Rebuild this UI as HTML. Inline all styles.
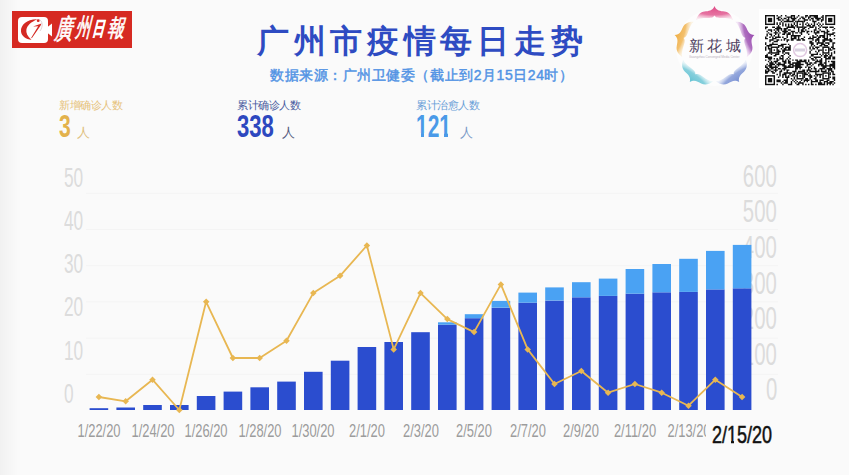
<!DOCTYPE html>
<html><head><meta charset="utf-8">
<style>
html,body{margin:0;padding:0;}
body{width:849px;height:475px;overflow:hidden;background:#fafafa;position:relative;font-family:"Liberation Sans",sans-serif;}
.abs{position:absolute;}
.num{position:absolute;font-family:"Liberation Sans",sans-serif;white-space:nowrap;transform-origin:0 0;line-height:1;}
.la{position:absolute;left:63.5px;font-size:27px;color:#dcdcdc;transform:scaleX(0.64);transform-origin:0 0;line-height:1;white-space:nowrap;}
.ra{position:absolute;right:72px;font-size:31px;color:#dcdcdc;transform:scaleX(0.655);transform-origin:100% 0;line-height:1;white-space:nowrap;}
.dl{position:absolute;top:421px;width:120px;text-align:center;font-size:19px;color:#9c9c9c;transform:scaleX(0.68);line-height:1;white-space:nowrap;}
</style></head><body>
<div class="abs" style="left:0;top:0;width:18px;height:475px;background:linear-gradient(to right,#f1f1f1,#fafafa);"></div>
<!-- logo -->
<div class="abs" style="left:12px;top:11px;width:120px;height:37px;background:#d62a22;"></div>
<div class="abs" style="left:18px;top:16.5px;width:30px;height:26px;background:#fff;border-radius:4px;"></div>
<svg class="abs" style="left:12px;top:11px" width="120" height="37">
<path d="M35.5 16 L40 12.5 L40 25.5 L35.5 22 Z" fill="#fff"/>
<path d="M25.5 8.3 C15 8 8.5 14 9 20.5 C9.5 25 14 28.5 19.5 28.8 C15.5 25.5 13.8 22 14.4 18.5 C15.2 14.5 19 11 25.5 8.3 Z" fill="#d42a24"/>
<path d="M21 15.5 L29.5 12.5 L28.5 14.8 L19.8 27.2 L19.2 26.8 L26.2 15.2 Z" fill="#d42a24"/>
<circle cx="26.2" cy="9.7" r="1.4" fill="#d42a24"/>
<path d="M27 8.5 C31 10 31 16 28 20" fill="none" stroke="#c8b0b8" stroke-width="0.6"/>
</svg>
<div class="abs" style="left:56px;top:20px;font-size:18px;color:#fff;white-space:nowrap;line-height:1;transform:skewX(-14deg) scaleY(1.5);transform-origin:50% 50%;font-family:'Liberation Serif',serif;-webkit-text-stroke:0.5px #fff;">廣</div>
<div class="abs" style="left:77px;top:21px;font-size:15px;color:#fff;white-space:nowrap;line-height:1;transform:skewX(-14deg) scaleY(1.65);transform-origin:50% 50%;font-family:'Liberation Serif',serif;-webkit-text-stroke:0.5px #fff;">州</div>
<div class="abs" style="left:94px;top:23px;font-size:12px;color:#fff;white-space:nowrap;line-height:1;transform:skewX(-14deg) scaleY(1.6);transform-origin:50% 50%;font-family:'Liberation Serif',serif;font-weight:bold;-webkit-text-stroke:0.3px #fff;">日</div>
<div class="abs" style="left:109px;top:20px;font-size:17px;color:#fff;white-space:nowrap;line-height:1;transform:skewX(-14deg) scaleY(1.4);transform-origin:50% 50%;font-family:'Liberation Serif',serif;-webkit-text-stroke:0.5px #fff;">報</div>
<!-- title -->
<div class="abs" style="left:257px;top:22px;font-size:32px;font-weight:bold;color:#2e4bc2;white-space:nowrap;line-height:1.2;letter-spacing:4.7px;">广州市疫情每日走势</div>
<div class="abs" style="left:270px;top:67px;font-size:14px;font-weight:normal;color:#5293e4;-webkit-text-stroke:0.45px #5293e4;white-space:nowrap;line-height:1.2;letter-spacing:0.55px;">数据来源：广州卫健委（截止到2月15日24时）</div>
<!-- logo 2 -->
<div class="abs" style="left:676px;top:9px;width:77px;height:77px;border-radius:50%;background:#fdfdfd;"></div>
<svg class="abs" style="left:670px;top:0px" width="90" height="95" viewBox="0 0 90 95">
<defs><radialGradient id="pg0" cx="0.5" cy="0" r="1" fx="0.5" fy="0.1"><stop offset="0" stop-color="#e0508a"/><stop offset="0.6" stop-color="#e0508a" stop-opacity="0.8"/><stop offset="1" stop-color="#f4b8d0" stop-opacity="0.3"/></radialGradient><radialGradient id="pg1" cx="0.5" cy="0" r="1" fx="0.5" fy="0.1"><stop offset="0" stop-color="#9a4cb0"/><stop offset="0.6" stop-color="#9a4cb0" stop-opacity="0.8"/><stop offset="1" stop-color="#dcb0e4" stop-opacity="0.3"/></radialGradient><radialGradient id="pg2" cx="0.5" cy="0" r="1" fx="0.5" fy="0.1"><stop offset="0" stop-color="#7a92d4"/><stop offset="0.6" stop-color="#7a92d4" stop-opacity="0.8"/><stop offset="1" stop-color="#c8d4f0" stop-opacity="0.3"/></radialGradient><radialGradient id="pg3" cx="0.5" cy="0" r="1" fx="0.5" fy="0.1"><stop offset="0" stop-color="#68c4d4"/><stop offset="0.6" stop-color="#68c4d4" stop-opacity="0.8"/><stop offset="1" stop-color="#b8e4ec" stop-opacity="0.3"/></radialGradient><radialGradient id="pg4" cx="0.5" cy="0" r="1" fx="0.5" fy="0.1"><stop offset="0" stop-color="#f0b048"/><stop offset="0.6" stop-color="#f0b048" stop-opacity="0.8"/><stop offset="1" stop-color="#f8dca8" stop-opacity="0.3"/></radialGradient></defs>
<path d="M -18.5 14 C -17 9 -14 6 -10 5.5 C -6 5 -2 5 0 0 C 2 5 6 5 10 5.5 C 14 6 17 9 18.5 14 C 16 12.5 12 12 8 12 C 4 12 1.5 12 0 9.5 C -1.5 12 -4 12 -8 12 C -12 12 -16 12.5 -18.5 14 Z" fill="url(#pg0)" transform="rotate(0 44.5 48) translate(44.5 6)"/>
<path d="M -18.5 14 C -17 9 -14 6 -10 5.5 C -6 5 -2 5 0 0 C 2 5 6 5 10 5.5 C 14 6 17 9 18.5 14 C 16 12.5 12 12 8 12 C 4 12 1.5 12 0 9.5 C -1.5 12 -4 12 -8 12 C -12 12 -16 12.5 -18.5 14 Z" fill="url(#pg1)" transform="rotate(72 44.5 48) translate(44.5 6)"/>
<path d="M -18.5 14 C -17 9 -14 6 -10 5.5 C -6 5 -2 5 0 0 C 2 5 6 5 10 5.5 C 14 6 17 9 18.5 14 C 16 12.5 12 12 8 12 C 4 12 1.5 12 0 9.5 C -1.5 12 -4 12 -8 12 C -12 12 -16 12.5 -18.5 14 Z" fill="url(#pg2)" transform="rotate(144 44.5 48) translate(44.5 6)"/>
<path d="M -18.5 14 C -17 9 -14 6 -10 5.5 C -6 5 -2 5 0 0 C 2 5 6 5 10 5.5 C 14 6 17 9 18.5 14 C 16 12.5 12 12 8 12 C 4 12 1.5 12 0 9.5 C -1.5 12 -4 12 -8 12 C -12 12 -16 12.5 -18.5 14 Z" fill="url(#pg3)" transform="rotate(216 44.5 48) translate(44.5 6)"/>
<path d="M -18.5 14 C -17 9 -14 6 -10 5.5 C -6 5 -2 5 0 0 C 2 5 6 5 10 5.5 C 14 6 17 9 18.5 14 C 16 12.5 12 12 8 12 C 4 12 1.5 12 0 9.5 C -1.5 12 -4 12 -8 12 C -12 12 -16 12.5 -18.5 14 Z" fill="url(#pg4)" transform="rotate(288 44.5 48) translate(44.5 6)"/>
</svg>
<div class="abs" style="left:689px;top:36.5px;font-size:15px;color:#4e4060;white-space:nowrap;line-height:1.2;font-family:'Liberation Serif',serif;letter-spacing:3.3px;font-weight:200;">新花城</div>
<div class="abs" style="left:689px;top:54.5px;font-size:8px;line-height:8px;color:#b8b0bc;white-space:nowrap;transform:scale(0.38,0.45);transform-origin:0 0;">Guangzhou Converged Media Center</div>
<!-- QR -->
<div class="abs" style="left:759px;top:9px;width:81px;height:79px;background:#fff;"></div>
<svg class="abs" style="left:764.7px;top:14.7px" width="71" height="71">
<path fill="#111" d="M11.46 0.00h1.43v1.43h-1.43zM15.76 0.00h1.43v1.43h-1.43zM20.06 0.00h1.43v1.43h-1.43zM25.79 0.00h1.43v1.43h-1.43zM27.22 0.00h1.43v1.43h-1.43zM28.65 0.00h1.43v1.43h-1.43zM32.95 0.00h1.43v1.43h-1.43zM40.11 0.00h1.43v1.43h-1.43zM41.55 0.00h1.43v1.43h-1.43zM44.41 0.00h1.43v1.43h-1.43zM45.84 0.00h1.43v1.43h-1.43zM47.28 0.00h1.43v1.43h-1.43zM48.71 0.00h1.43v1.43h-1.43zM50.14 0.00h1.43v1.43h-1.43zM51.58 0.00h1.43v1.43h-1.43zM57.31 0.00h1.43v1.43h-1.43zM12.89 1.43h1.43v1.43h-1.43zM14.33 1.43h1.43v1.43h-1.43zM21.49 1.43h1.43v1.43h-1.43zM22.92 1.43h1.43v1.43h-1.43zM24.36 1.43h1.43v1.43h-1.43zM25.79 1.43h1.43v1.43h-1.43zM28.65 1.43h1.43v1.43h-1.43zM31.52 1.43h1.43v1.43h-1.43zM35.82 1.43h1.43v1.43h-1.43zM37.25 1.43h1.43v1.43h-1.43zM40.11 1.43h1.43v1.43h-1.43zM42.98 1.43h1.43v1.43h-1.43zM44.41 1.43h1.43v1.43h-1.43zM48.71 1.43h1.43v1.43h-1.43zM50.14 1.43h1.43v1.43h-1.43zM51.58 1.43h1.43v1.43h-1.43zM55.87 1.43h1.43v1.43h-1.43zM57.31 1.43h1.43v1.43h-1.43zM11.46 2.87h1.43v1.43h-1.43zM12.89 2.87h1.43v1.43h-1.43zM15.76 2.87h1.43v1.43h-1.43zM18.62 2.87h1.43v1.43h-1.43zM20.06 2.87h1.43v1.43h-1.43zM22.92 2.87h1.43v1.43h-1.43zM25.79 2.87h1.43v1.43h-1.43zM27.22 2.87h1.43v1.43h-1.43zM28.65 2.87h1.43v1.43h-1.43zM30.09 2.87h1.43v1.43h-1.43zM34.38 2.87h1.43v1.43h-1.43zM37.25 2.87h1.43v1.43h-1.43zM38.68 2.87h1.43v1.43h-1.43zM42.98 2.87h1.43v1.43h-1.43zM45.84 2.87h1.43v1.43h-1.43zM47.28 2.87h1.43v1.43h-1.43zM50.14 2.87h1.43v1.43h-1.43zM51.58 2.87h1.43v1.43h-1.43zM53.01 2.87h1.43v1.43h-1.43zM54.44 2.87h1.43v1.43h-1.43zM57.31 2.87h1.43v1.43h-1.43zM12.89 4.30h1.43v1.43h-1.43zM14.33 4.30h1.43v1.43h-1.43zM17.19 4.30h1.43v1.43h-1.43zM21.49 4.30h1.43v1.43h-1.43zM22.92 4.30h1.43v1.43h-1.43zM27.22 4.30h1.43v1.43h-1.43zM28.65 4.30h1.43v1.43h-1.43zM32.95 4.30h1.43v1.43h-1.43zM38.68 4.30h1.43v1.43h-1.43zM40.11 4.30h1.43v1.43h-1.43zM41.55 4.30h1.43v1.43h-1.43zM44.41 4.30h1.43v1.43h-1.43zM47.28 4.30h1.43v1.43h-1.43zM51.58 4.30h1.43v1.43h-1.43zM53.01 4.30h1.43v1.43h-1.43zM55.87 4.30h1.43v1.43h-1.43zM57.31 4.30h1.43v1.43h-1.43zM15.76 5.73h1.43v1.43h-1.43zM18.62 5.73h1.43v1.43h-1.43zM20.06 5.73h1.43v1.43h-1.43zM21.49 5.73h1.43v1.43h-1.43zM22.92 5.73h1.43v1.43h-1.43zM24.36 5.73h1.43v1.43h-1.43zM25.79 5.73h1.43v1.43h-1.43zM27.22 5.73h1.43v1.43h-1.43zM30.09 5.73h1.43v1.43h-1.43zM38.68 5.73h1.43v1.43h-1.43zM47.28 5.73h1.43v1.43h-1.43zM48.71 5.73h1.43v1.43h-1.43zM50.14 5.73h1.43v1.43h-1.43zM55.87 5.73h1.43v1.43h-1.43zM11.46 7.16h1.43v1.43h-1.43zM14.33 7.16h1.43v1.43h-1.43zM17.19 7.16h1.43v1.43h-1.43zM28.65 7.16h1.43v1.43h-1.43zM41.55 7.16h1.43v1.43h-1.43zM48.71 7.16h1.43v1.43h-1.43zM53.01 7.16h1.43v1.43h-1.43zM11.46 8.60h1.43v1.43h-1.43zM14.33 8.60h1.43v1.43h-1.43zM17.19 8.60h1.43v1.43h-1.43zM20.06 8.60h1.43v1.43h-1.43zM22.92 8.60h1.43v1.43h-1.43zM25.79 8.60h1.43v1.43h-1.43zM28.65 8.60h1.43v1.43h-1.43zM40.11 8.60h1.43v1.43h-1.43zM42.98 8.60h1.43v1.43h-1.43zM45.84 8.60h1.43v1.43h-1.43zM48.71 8.60h1.43v1.43h-1.43zM51.58 8.60h1.43v1.43h-1.43zM54.44 8.60h1.43v1.43h-1.43zM57.31 8.60h1.43v1.43h-1.43zM12.89 10.03h1.43v1.43h-1.43zM17.19 10.03h1.43v1.43h-1.43zM20.06 10.03h1.43v1.43h-1.43zM22.92 10.03h1.43v1.43h-1.43zM25.79 10.03h1.43v1.43h-1.43zM27.22 10.03h1.43v1.43h-1.43zM30.09 10.03h1.43v1.43h-1.43zM41.55 10.03h1.43v1.43h-1.43zM42.98 10.03h1.43v1.43h-1.43zM44.41 10.03h1.43v1.43h-1.43zM47.28 10.03h1.43v1.43h-1.43zM48.71 10.03h1.43v1.43h-1.43zM53.01 10.03h1.43v1.43h-1.43zM55.87 10.03h1.43v1.43h-1.43zM0.00 11.46h1.43v1.43h-1.43zM1.43 11.46h1.43v1.43h-1.43zM7.16 11.46h1.43v1.43h-1.43zM8.60 11.46h1.43v1.43h-1.43zM11.46 11.46h1.43v1.43h-1.43zM12.89 11.46h1.43v1.43h-1.43zM14.33 11.46h1.43v1.43h-1.43zM21.49 11.46h1.43v1.43h-1.43zM22.92 11.46h1.43v1.43h-1.43zM24.36 11.46h1.43v1.43h-1.43zM25.79 11.46h1.43v1.43h-1.43zM27.22 11.46h1.43v1.43h-1.43zM28.65 11.46h1.43v1.43h-1.43zM38.68 11.46h1.43v1.43h-1.43zM40.11 11.46h1.43v1.43h-1.43zM44.41 11.46h1.43v1.43h-1.43zM45.84 11.46h1.43v1.43h-1.43zM47.28 11.46h1.43v1.43h-1.43zM50.14 11.46h1.43v1.43h-1.43zM54.44 11.46h1.43v1.43h-1.43zM57.31 11.46h1.43v1.43h-1.43zM58.74 11.46h1.43v1.43h-1.43zM60.17 11.46h1.43v1.43h-1.43zM61.60 11.46h1.43v1.43h-1.43zM64.47 11.46h1.43v1.43h-1.43zM65.90 11.46h1.43v1.43h-1.43zM67.33 11.46h1.43v1.43h-1.43zM0.00 12.89h1.43v1.43h-1.43zM10.03 12.89h1.43v1.43h-1.43zM11.46 12.89h1.43v1.43h-1.43zM12.89 12.89h1.43v1.43h-1.43zM14.33 12.89h1.43v1.43h-1.43zM15.76 12.89h1.43v1.43h-1.43zM18.62 12.89h1.43v1.43h-1.43zM20.06 12.89h1.43v1.43h-1.43zM21.49 12.89h1.43v1.43h-1.43zM28.65 12.89h1.43v1.43h-1.43zM32.95 12.89h1.43v1.43h-1.43zM37.25 12.89h1.43v1.43h-1.43zM38.68 12.89h1.43v1.43h-1.43zM42.98 12.89h1.43v1.43h-1.43zM50.14 12.89h1.43v1.43h-1.43zM53.01 12.89h1.43v1.43h-1.43zM60.17 12.89h1.43v1.43h-1.43zM68.77 12.89h1.43v1.43h-1.43zM2.87 14.33h1.43v1.43h-1.43zM4.30 14.33h1.43v1.43h-1.43zM5.73 14.33h1.43v1.43h-1.43zM8.60 14.33h1.43v1.43h-1.43zM11.46 14.33h1.43v1.43h-1.43zM12.89 14.33h1.43v1.43h-1.43zM15.76 14.33h1.43v1.43h-1.43zM18.62 14.33h1.43v1.43h-1.43zM20.06 14.33h1.43v1.43h-1.43zM22.92 14.33h1.43v1.43h-1.43zM24.36 14.33h1.43v1.43h-1.43zM32.95 14.33h1.43v1.43h-1.43zM35.82 14.33h1.43v1.43h-1.43zM37.25 14.33h1.43v1.43h-1.43zM40.11 14.33h1.43v1.43h-1.43zM48.71 14.33h1.43v1.43h-1.43zM50.14 14.33h1.43v1.43h-1.43zM54.44 14.33h1.43v1.43h-1.43zM61.60 14.33h1.43v1.43h-1.43zM67.33 14.33h1.43v1.43h-1.43zM1.43 15.76h1.43v1.43h-1.43zM5.73 15.76h1.43v1.43h-1.43zM10.03 15.76h1.43v1.43h-1.43zM12.89 15.76h1.43v1.43h-1.43zM17.19 15.76h1.43v1.43h-1.43zM18.62 15.76h1.43v1.43h-1.43zM20.06 15.76h1.43v1.43h-1.43zM21.49 15.76h1.43v1.43h-1.43zM25.79 15.76h1.43v1.43h-1.43zM27.22 15.76h1.43v1.43h-1.43zM28.65 15.76h1.43v1.43h-1.43zM32.95 15.76h1.43v1.43h-1.43zM35.82 15.76h1.43v1.43h-1.43zM37.25 15.76h1.43v1.43h-1.43zM38.68 15.76h1.43v1.43h-1.43zM41.55 15.76h1.43v1.43h-1.43zM42.98 15.76h1.43v1.43h-1.43zM45.84 15.76h1.43v1.43h-1.43zM48.71 15.76h1.43v1.43h-1.43zM51.58 15.76h1.43v1.43h-1.43zM53.01 15.76h1.43v1.43h-1.43zM55.87 15.76h1.43v1.43h-1.43zM57.31 15.76h1.43v1.43h-1.43zM58.74 15.76h1.43v1.43h-1.43zM61.60 15.76h1.43v1.43h-1.43zM63.04 15.76h1.43v1.43h-1.43zM2.87 17.19h1.43v1.43h-1.43zM8.60 17.19h1.43v1.43h-1.43zM10.03 17.19h1.43v1.43h-1.43zM11.46 17.19h1.43v1.43h-1.43zM14.33 17.19h1.43v1.43h-1.43zM18.62 17.19h1.43v1.43h-1.43zM20.06 17.19h1.43v1.43h-1.43zM22.92 17.19h1.43v1.43h-1.43zM24.36 17.19h1.43v1.43h-1.43zM27.22 17.19h1.43v1.43h-1.43zM30.09 17.19h1.43v1.43h-1.43zM31.52 17.19h1.43v1.43h-1.43zM34.38 17.19h1.43v1.43h-1.43zM35.82 17.19h1.43v1.43h-1.43zM41.55 17.19h1.43v1.43h-1.43zM48.71 17.19h1.43v1.43h-1.43zM50.14 17.19h1.43v1.43h-1.43zM51.58 17.19h1.43v1.43h-1.43zM53.01 17.19h1.43v1.43h-1.43zM58.74 17.19h1.43v1.43h-1.43zM60.17 17.19h1.43v1.43h-1.43zM61.60 17.19h1.43v1.43h-1.43zM67.33 17.19h1.43v1.43h-1.43zM68.77 17.19h1.43v1.43h-1.43zM1.43 18.62h1.43v1.43h-1.43zM4.30 18.62h1.43v1.43h-1.43zM5.73 18.62h1.43v1.43h-1.43zM10.03 18.62h1.43v1.43h-1.43zM12.89 18.62h1.43v1.43h-1.43zM17.19 18.62h1.43v1.43h-1.43zM18.62 18.62h1.43v1.43h-1.43zM21.49 18.62h1.43v1.43h-1.43zM22.92 18.62h1.43v1.43h-1.43zM24.36 18.62h1.43v1.43h-1.43zM27.22 18.62h1.43v1.43h-1.43zM35.82 18.62h1.43v1.43h-1.43zM42.98 18.62h1.43v1.43h-1.43zM50.14 18.62h1.43v1.43h-1.43zM58.74 18.62h1.43v1.43h-1.43zM61.60 18.62h1.43v1.43h-1.43zM63.04 18.62h1.43v1.43h-1.43zM64.47 18.62h1.43v1.43h-1.43zM65.90 18.62h1.43v1.43h-1.43zM67.33 18.62h1.43v1.43h-1.43zM1.43 20.06h1.43v1.43h-1.43zM5.73 20.06h1.43v1.43h-1.43zM8.60 20.06h1.43v1.43h-1.43zM12.89 20.06h1.43v1.43h-1.43zM21.49 20.06h1.43v1.43h-1.43zM25.79 20.06h1.43v1.43h-1.43zM27.22 20.06h1.43v1.43h-1.43zM28.65 20.06h1.43v1.43h-1.43zM30.09 20.06h1.43v1.43h-1.43zM31.52 20.06h1.43v1.43h-1.43zM32.95 20.06h1.43v1.43h-1.43zM34.38 20.06h1.43v1.43h-1.43zM47.28 20.06h1.43v1.43h-1.43zM51.58 20.06h1.43v1.43h-1.43zM54.44 20.06h1.43v1.43h-1.43zM55.87 20.06h1.43v1.43h-1.43zM57.31 20.06h1.43v1.43h-1.43zM58.74 20.06h1.43v1.43h-1.43zM61.60 20.06h1.43v1.43h-1.43zM64.47 20.06h1.43v1.43h-1.43zM68.77 20.06h1.43v1.43h-1.43zM0.00 21.49h1.43v1.43h-1.43zM4.30 21.49h1.43v1.43h-1.43zM7.16 21.49h1.43v1.43h-1.43zM10.03 21.49h1.43v1.43h-1.43zM11.46 21.49h1.43v1.43h-1.43zM12.89 21.49h1.43v1.43h-1.43zM14.33 21.49h1.43v1.43h-1.43zM17.19 21.49h1.43v1.43h-1.43zM21.49 21.49h1.43v1.43h-1.43zM25.79 21.49h1.43v1.43h-1.43zM28.65 21.49h1.43v1.43h-1.43zM30.09 21.49h1.43v1.43h-1.43zM32.95 21.49h1.43v1.43h-1.43zM38.68 21.49h1.43v1.43h-1.43zM44.41 21.49h1.43v1.43h-1.43zM47.28 21.49h1.43v1.43h-1.43zM48.71 21.49h1.43v1.43h-1.43zM50.14 21.49h1.43v1.43h-1.43zM53.01 21.49h1.43v1.43h-1.43zM54.44 21.49h1.43v1.43h-1.43zM57.31 21.49h1.43v1.43h-1.43zM58.74 21.49h1.43v1.43h-1.43zM61.60 21.49h1.43v1.43h-1.43zM0.00 22.92h1.43v1.43h-1.43zM1.43 22.92h1.43v1.43h-1.43zM7.16 22.92h1.43v1.43h-1.43zM8.60 22.92h1.43v1.43h-1.43zM10.03 22.92h1.43v1.43h-1.43zM18.62 22.92h1.43v1.43h-1.43zM20.06 22.92h1.43v1.43h-1.43zM25.79 22.92h1.43v1.43h-1.43zM27.22 22.92h1.43v1.43h-1.43zM28.65 22.92h1.43v1.43h-1.43zM30.09 22.92h1.43v1.43h-1.43zM32.95 22.92h1.43v1.43h-1.43zM35.82 22.92h1.43v1.43h-1.43zM37.25 22.92h1.43v1.43h-1.43zM42.98 22.92h1.43v1.43h-1.43zM44.41 22.92h1.43v1.43h-1.43zM45.84 22.92h1.43v1.43h-1.43zM47.28 22.92h1.43v1.43h-1.43zM51.58 22.92h1.43v1.43h-1.43zM53.01 22.92h1.43v1.43h-1.43zM58.74 22.92h1.43v1.43h-1.43zM60.17 22.92h1.43v1.43h-1.43zM61.60 22.92h1.43v1.43h-1.43zM64.47 22.92h1.43v1.43h-1.43zM68.77 22.92h1.43v1.43h-1.43zM4.30 24.36h1.43v1.43h-1.43zM5.73 24.36h1.43v1.43h-1.43zM7.16 24.36h1.43v1.43h-1.43zM11.46 24.36h1.43v1.43h-1.43zM12.89 24.36h1.43v1.43h-1.43zM15.76 24.36h1.43v1.43h-1.43zM18.62 24.36h1.43v1.43h-1.43zM21.49 24.36h1.43v1.43h-1.43zM22.92 24.36h1.43v1.43h-1.43zM25.79 24.36h1.43v1.43h-1.43zM27.22 24.36h1.43v1.43h-1.43zM31.52 24.36h1.43v1.43h-1.43zM32.95 24.36h1.43v1.43h-1.43zM34.38 24.36h1.43v1.43h-1.43zM37.25 24.36h1.43v1.43h-1.43zM38.68 24.36h1.43v1.43h-1.43zM47.28 24.36h1.43v1.43h-1.43zM50.14 24.36h1.43v1.43h-1.43zM51.58 24.36h1.43v1.43h-1.43zM53.01 24.36h1.43v1.43h-1.43zM57.31 24.36h1.43v1.43h-1.43zM58.74 24.36h1.43v1.43h-1.43zM60.17 24.36h1.43v1.43h-1.43zM61.60 24.36h1.43v1.43h-1.43zM63.04 24.36h1.43v1.43h-1.43zM64.47 24.36h1.43v1.43h-1.43zM65.90 24.36h1.43v1.43h-1.43zM4.30 25.79h1.43v1.43h-1.43zM8.60 25.79h1.43v1.43h-1.43zM10.03 25.79h1.43v1.43h-1.43zM11.46 25.79h1.43v1.43h-1.43zM21.49 25.79h1.43v1.43h-1.43zM44.41 25.79h1.43v1.43h-1.43zM45.84 25.79h1.43v1.43h-1.43zM50.14 25.79h1.43v1.43h-1.43zM53.01 25.79h1.43v1.43h-1.43zM57.31 25.79h1.43v1.43h-1.43zM58.74 25.79h1.43v1.43h-1.43zM64.47 25.79h1.43v1.43h-1.43zM65.90 25.79h1.43v1.43h-1.43zM0.00 27.22h1.43v1.43h-1.43zM7.16 27.22h1.43v1.43h-1.43zM44.41 27.22h1.43v1.43h-1.43zM45.84 27.22h1.43v1.43h-1.43zM47.28 27.22h1.43v1.43h-1.43zM51.58 27.22h1.43v1.43h-1.43zM53.01 27.22h1.43v1.43h-1.43zM54.44 27.22h1.43v1.43h-1.43zM55.87 27.22h1.43v1.43h-1.43zM57.31 27.22h1.43v1.43h-1.43zM60.17 27.22h1.43v1.43h-1.43zM61.60 27.22h1.43v1.43h-1.43zM63.04 27.22h1.43v1.43h-1.43zM67.33 27.22h1.43v1.43h-1.43zM68.77 27.22h1.43v1.43h-1.43zM0.00 28.65h1.43v1.43h-1.43zM4.30 28.65h1.43v1.43h-1.43zM5.73 28.65h1.43v1.43h-1.43zM7.16 28.65h1.43v1.43h-1.43zM8.60 28.65h1.43v1.43h-1.43zM10.03 28.65h1.43v1.43h-1.43zM11.46 28.65h1.43v1.43h-1.43zM15.76 28.65h1.43v1.43h-1.43zM17.19 28.65h1.43v1.43h-1.43zM18.62 28.65h1.43v1.43h-1.43zM20.06 28.65h1.43v1.43h-1.43zM22.92 28.65h1.43v1.43h-1.43zM45.84 28.65h1.43v1.43h-1.43zM47.28 28.65h1.43v1.43h-1.43zM51.58 28.65h1.43v1.43h-1.43zM55.87 28.65h1.43v1.43h-1.43zM57.31 28.65h1.43v1.43h-1.43zM58.74 28.65h1.43v1.43h-1.43zM63.04 28.65h1.43v1.43h-1.43zM67.33 28.65h1.43v1.43h-1.43zM1.43 30.09h1.43v1.43h-1.43zM2.87 30.09h1.43v1.43h-1.43zM4.30 30.09h1.43v1.43h-1.43zM5.73 30.09h1.43v1.43h-1.43zM12.89 30.09h1.43v1.43h-1.43zM14.33 30.09h1.43v1.43h-1.43zM15.76 30.09h1.43v1.43h-1.43zM17.19 30.09h1.43v1.43h-1.43zM24.36 30.09h1.43v1.43h-1.43zM45.84 30.09h1.43v1.43h-1.43zM48.71 30.09h1.43v1.43h-1.43zM54.44 30.09h1.43v1.43h-1.43zM55.87 30.09h1.43v1.43h-1.43zM58.74 30.09h1.43v1.43h-1.43zM60.17 30.09h1.43v1.43h-1.43zM61.60 30.09h1.43v1.43h-1.43zM67.33 30.09h1.43v1.43h-1.43zM0.00 31.52h1.43v1.43h-1.43zM2.87 31.52h1.43v1.43h-1.43zM12.89 31.52h1.43v1.43h-1.43zM17.19 31.52h1.43v1.43h-1.43zM20.06 31.52h1.43v1.43h-1.43zM21.49 31.52h1.43v1.43h-1.43zM22.92 31.52h1.43v1.43h-1.43zM24.36 31.52h1.43v1.43h-1.43zM44.41 31.52h1.43v1.43h-1.43zM47.28 31.52h1.43v1.43h-1.43zM50.14 31.52h1.43v1.43h-1.43zM51.58 31.52h1.43v1.43h-1.43zM53.01 31.52h1.43v1.43h-1.43zM65.90 31.52h1.43v1.43h-1.43zM67.33 31.52h1.43v1.43h-1.43zM0.00 32.95h1.43v1.43h-1.43zM2.87 32.95h1.43v1.43h-1.43zM4.30 32.95h1.43v1.43h-1.43zM15.76 32.95h1.43v1.43h-1.43zM18.62 32.95h1.43v1.43h-1.43zM20.06 32.95h1.43v1.43h-1.43zM22.92 32.95h1.43v1.43h-1.43zM24.36 32.95h1.43v1.43h-1.43zM44.41 32.95h1.43v1.43h-1.43zM47.28 32.95h1.43v1.43h-1.43zM48.71 32.95h1.43v1.43h-1.43zM51.58 32.95h1.43v1.43h-1.43zM64.47 32.95h1.43v1.43h-1.43zM67.33 32.95h1.43v1.43h-1.43zM68.77 32.95h1.43v1.43h-1.43zM0.00 34.38h1.43v1.43h-1.43zM4.30 34.38h1.43v1.43h-1.43zM12.89 34.38h1.43v1.43h-1.43zM17.19 34.38h1.43v1.43h-1.43zM18.62 34.38h1.43v1.43h-1.43zM20.06 34.38h1.43v1.43h-1.43zM21.49 34.38h1.43v1.43h-1.43zM22.92 34.38h1.43v1.43h-1.43zM24.36 34.38h1.43v1.43h-1.43zM45.84 34.38h1.43v1.43h-1.43zM53.01 34.38h1.43v1.43h-1.43zM54.44 34.38h1.43v1.43h-1.43zM55.87 34.38h1.43v1.43h-1.43zM64.47 34.38h1.43v1.43h-1.43zM65.90 34.38h1.43v1.43h-1.43zM4.30 35.82h1.43v1.43h-1.43zM12.89 35.82h1.43v1.43h-1.43zM14.33 35.82h1.43v1.43h-1.43zM17.19 35.82h1.43v1.43h-1.43zM18.62 35.82h1.43v1.43h-1.43zM44.41 35.82h1.43v1.43h-1.43zM50.14 35.82h1.43v1.43h-1.43zM53.01 35.82h1.43v1.43h-1.43zM68.77 35.82h1.43v1.43h-1.43zM2.87 37.25h1.43v1.43h-1.43zM4.30 37.25h1.43v1.43h-1.43zM12.89 37.25h1.43v1.43h-1.43zM17.19 37.25h1.43v1.43h-1.43zM20.06 37.25h1.43v1.43h-1.43zM21.49 37.25h1.43v1.43h-1.43zM22.92 37.25h1.43v1.43h-1.43zM44.41 37.25h1.43v1.43h-1.43zM51.58 37.25h1.43v1.43h-1.43zM65.90 37.25h1.43v1.43h-1.43zM68.77 37.25h1.43v1.43h-1.43zM1.43 38.68h1.43v1.43h-1.43zM5.73 38.68h1.43v1.43h-1.43zM10.03 38.68h1.43v1.43h-1.43zM11.46 38.68h1.43v1.43h-1.43zM12.89 38.68h1.43v1.43h-1.43zM18.62 38.68h1.43v1.43h-1.43zM22.92 38.68h1.43v1.43h-1.43zM45.84 38.68h1.43v1.43h-1.43zM47.28 38.68h1.43v1.43h-1.43zM48.71 38.68h1.43v1.43h-1.43zM50.14 38.68h1.43v1.43h-1.43zM51.58 38.68h1.43v1.43h-1.43zM54.44 38.68h1.43v1.43h-1.43zM57.31 38.68h1.43v1.43h-1.43zM60.17 38.68h1.43v1.43h-1.43zM63.04 38.68h1.43v1.43h-1.43zM65.90 38.68h1.43v1.43h-1.43zM0.00 40.11h1.43v1.43h-1.43zM1.43 40.11h1.43v1.43h-1.43zM8.60 40.11h1.43v1.43h-1.43zM10.03 40.11h1.43v1.43h-1.43zM15.76 40.11h1.43v1.43h-1.43zM17.19 40.11h1.43v1.43h-1.43zM24.36 40.11h1.43v1.43h-1.43zM45.84 40.11h1.43v1.43h-1.43zM47.28 40.11h1.43v1.43h-1.43zM55.87 40.11h1.43v1.43h-1.43zM58.74 40.11h1.43v1.43h-1.43zM60.17 40.11h1.43v1.43h-1.43zM61.60 40.11h1.43v1.43h-1.43zM64.47 40.11h1.43v1.43h-1.43zM65.90 40.11h1.43v1.43h-1.43zM0.00 41.55h1.43v1.43h-1.43zM1.43 41.55h1.43v1.43h-1.43zM2.87 41.55h1.43v1.43h-1.43zM4.30 41.55h1.43v1.43h-1.43zM5.73 41.55h1.43v1.43h-1.43zM14.33 41.55h1.43v1.43h-1.43zM17.19 41.55h1.43v1.43h-1.43zM22.92 41.55h1.43v1.43h-1.43zM44.41 41.55h1.43v1.43h-1.43zM48.71 41.55h1.43v1.43h-1.43zM50.14 41.55h1.43v1.43h-1.43zM51.58 41.55h1.43v1.43h-1.43zM53.01 41.55h1.43v1.43h-1.43zM54.44 41.55h1.43v1.43h-1.43zM58.74 41.55h1.43v1.43h-1.43zM60.17 41.55h1.43v1.43h-1.43zM63.04 41.55h1.43v1.43h-1.43zM64.47 41.55h1.43v1.43h-1.43zM67.33 41.55h1.43v1.43h-1.43zM68.77 41.55h1.43v1.43h-1.43zM2.87 42.98h1.43v1.43h-1.43zM4.30 42.98h1.43v1.43h-1.43zM5.73 42.98h1.43v1.43h-1.43zM8.60 42.98h1.43v1.43h-1.43zM11.46 42.98h1.43v1.43h-1.43zM14.33 42.98h1.43v1.43h-1.43zM15.76 42.98h1.43v1.43h-1.43zM17.19 42.98h1.43v1.43h-1.43zM21.49 42.98h1.43v1.43h-1.43zM24.36 42.98h1.43v1.43h-1.43zM45.84 42.98h1.43v1.43h-1.43zM47.28 42.98h1.43v1.43h-1.43zM50.14 42.98h1.43v1.43h-1.43zM55.87 42.98h1.43v1.43h-1.43zM60.17 42.98h1.43v1.43h-1.43zM61.60 42.98h1.43v1.43h-1.43zM63.04 42.98h1.43v1.43h-1.43zM64.47 42.98h1.43v1.43h-1.43zM67.33 42.98h1.43v1.43h-1.43zM68.77 42.98h1.43v1.43h-1.43zM0.00 44.41h1.43v1.43h-1.43zM4.30 44.41h1.43v1.43h-1.43zM11.46 44.41h1.43v1.43h-1.43zM12.89 44.41h1.43v1.43h-1.43zM17.19 44.41h1.43v1.43h-1.43zM20.06 44.41h1.43v1.43h-1.43zM22.92 44.41h1.43v1.43h-1.43zM27.22 44.41h1.43v1.43h-1.43zM30.09 44.41h1.43v1.43h-1.43zM31.52 44.41h1.43v1.43h-1.43zM34.38 44.41h1.43v1.43h-1.43zM35.82 44.41h1.43v1.43h-1.43zM38.68 44.41h1.43v1.43h-1.43zM40.11 44.41h1.43v1.43h-1.43zM42.98 44.41h1.43v1.43h-1.43zM47.28 44.41h1.43v1.43h-1.43zM48.71 44.41h1.43v1.43h-1.43zM51.58 44.41h1.43v1.43h-1.43zM54.44 44.41h1.43v1.43h-1.43zM55.87 44.41h1.43v1.43h-1.43zM60.17 44.41h1.43v1.43h-1.43zM2.87 45.84h1.43v1.43h-1.43zM5.73 45.84h1.43v1.43h-1.43zM8.60 45.84h1.43v1.43h-1.43zM10.03 45.84h1.43v1.43h-1.43zM11.46 45.84h1.43v1.43h-1.43zM17.19 45.84h1.43v1.43h-1.43zM18.62 45.84h1.43v1.43h-1.43zM20.06 45.84h1.43v1.43h-1.43zM22.92 45.84h1.43v1.43h-1.43zM24.36 45.84h1.43v1.43h-1.43zM31.52 45.84h1.43v1.43h-1.43zM32.95 45.84h1.43v1.43h-1.43zM34.38 45.84h1.43v1.43h-1.43zM35.82 45.84h1.43v1.43h-1.43zM37.25 45.84h1.43v1.43h-1.43zM38.68 45.84h1.43v1.43h-1.43zM40.11 45.84h1.43v1.43h-1.43zM42.98 45.84h1.43v1.43h-1.43zM50.14 45.84h1.43v1.43h-1.43zM51.58 45.84h1.43v1.43h-1.43zM53.01 45.84h1.43v1.43h-1.43zM54.44 45.84h1.43v1.43h-1.43zM55.87 45.84h1.43v1.43h-1.43zM60.17 45.84h1.43v1.43h-1.43zM63.04 45.84h1.43v1.43h-1.43zM65.90 45.84h1.43v1.43h-1.43zM67.33 45.84h1.43v1.43h-1.43zM68.77 45.84h1.43v1.43h-1.43zM4.30 47.28h1.43v1.43h-1.43zM5.73 47.28h1.43v1.43h-1.43zM7.16 47.28h1.43v1.43h-1.43zM10.03 47.28h1.43v1.43h-1.43zM12.89 47.28h1.43v1.43h-1.43zM14.33 47.28h1.43v1.43h-1.43zM18.62 47.28h1.43v1.43h-1.43zM20.06 47.28h1.43v1.43h-1.43zM22.92 47.28h1.43v1.43h-1.43zM24.36 47.28h1.43v1.43h-1.43zM27.22 47.28h1.43v1.43h-1.43zM28.65 47.28h1.43v1.43h-1.43zM30.09 47.28h1.43v1.43h-1.43zM31.52 47.28h1.43v1.43h-1.43zM32.95 47.28h1.43v1.43h-1.43zM34.38 47.28h1.43v1.43h-1.43zM40.11 47.28h1.43v1.43h-1.43zM41.55 47.28h1.43v1.43h-1.43zM44.41 47.28h1.43v1.43h-1.43zM45.84 47.28h1.43v1.43h-1.43zM48.71 47.28h1.43v1.43h-1.43zM50.14 47.28h1.43v1.43h-1.43zM54.44 47.28h1.43v1.43h-1.43zM55.87 47.28h1.43v1.43h-1.43zM58.74 47.28h1.43v1.43h-1.43zM60.17 47.28h1.43v1.43h-1.43zM67.33 47.28h1.43v1.43h-1.43zM68.77 47.28h1.43v1.43h-1.43zM1.43 48.71h1.43v1.43h-1.43zM4.30 48.71h1.43v1.43h-1.43zM5.73 48.71h1.43v1.43h-1.43zM7.16 48.71h1.43v1.43h-1.43zM8.60 48.71h1.43v1.43h-1.43zM11.46 48.71h1.43v1.43h-1.43zM12.89 48.71h1.43v1.43h-1.43zM14.33 48.71h1.43v1.43h-1.43zM15.76 48.71h1.43v1.43h-1.43zM17.19 48.71h1.43v1.43h-1.43zM18.62 48.71h1.43v1.43h-1.43zM24.36 48.71h1.43v1.43h-1.43zM25.79 48.71h1.43v1.43h-1.43zM27.22 48.71h1.43v1.43h-1.43zM30.09 48.71h1.43v1.43h-1.43zM31.52 48.71h1.43v1.43h-1.43zM32.95 48.71h1.43v1.43h-1.43zM34.38 48.71h1.43v1.43h-1.43zM35.82 48.71h1.43v1.43h-1.43zM37.25 48.71h1.43v1.43h-1.43zM41.55 48.71h1.43v1.43h-1.43zM42.98 48.71h1.43v1.43h-1.43zM44.41 48.71h1.43v1.43h-1.43zM47.28 48.71h1.43v1.43h-1.43zM53.01 48.71h1.43v1.43h-1.43zM54.44 48.71h1.43v1.43h-1.43zM55.87 48.71h1.43v1.43h-1.43zM57.31 48.71h1.43v1.43h-1.43zM60.17 48.71h1.43v1.43h-1.43zM64.47 48.71h1.43v1.43h-1.43zM65.90 48.71h1.43v1.43h-1.43zM67.33 48.71h1.43v1.43h-1.43zM68.77 48.71h1.43v1.43h-1.43zM0.00 50.14h1.43v1.43h-1.43zM2.87 50.14h1.43v1.43h-1.43zM4.30 50.14h1.43v1.43h-1.43zM5.73 50.14h1.43v1.43h-1.43zM10.03 50.14h1.43v1.43h-1.43zM12.89 50.14h1.43v1.43h-1.43zM17.19 50.14h1.43v1.43h-1.43zM18.62 50.14h1.43v1.43h-1.43zM20.06 50.14h1.43v1.43h-1.43zM22.92 50.14h1.43v1.43h-1.43zM24.36 50.14h1.43v1.43h-1.43zM27.22 50.14h1.43v1.43h-1.43zM28.65 50.14h1.43v1.43h-1.43zM30.09 50.14h1.43v1.43h-1.43zM31.52 50.14h1.43v1.43h-1.43zM32.95 50.14h1.43v1.43h-1.43zM34.38 50.14h1.43v1.43h-1.43zM41.55 50.14h1.43v1.43h-1.43zM45.84 50.14h1.43v1.43h-1.43zM53.01 50.14h1.43v1.43h-1.43zM55.87 50.14h1.43v1.43h-1.43zM57.31 50.14h1.43v1.43h-1.43zM58.74 50.14h1.43v1.43h-1.43zM60.17 50.14h1.43v1.43h-1.43zM61.60 50.14h1.43v1.43h-1.43zM63.04 50.14h1.43v1.43h-1.43zM64.47 50.14h1.43v1.43h-1.43zM65.90 50.14h1.43v1.43h-1.43zM67.33 50.14h1.43v1.43h-1.43zM68.77 50.14h1.43v1.43h-1.43zM0.00 51.58h1.43v1.43h-1.43zM1.43 51.58h1.43v1.43h-1.43zM4.30 51.58h1.43v1.43h-1.43zM5.73 51.58h1.43v1.43h-1.43zM7.16 51.58h1.43v1.43h-1.43zM8.60 51.58h1.43v1.43h-1.43zM10.03 51.58h1.43v1.43h-1.43zM11.46 51.58h1.43v1.43h-1.43zM18.62 51.58h1.43v1.43h-1.43zM20.06 51.58h1.43v1.43h-1.43zM21.49 51.58h1.43v1.43h-1.43zM22.92 51.58h1.43v1.43h-1.43zM24.36 51.58h1.43v1.43h-1.43zM25.79 51.58h1.43v1.43h-1.43zM27.22 51.58h1.43v1.43h-1.43zM30.09 51.58h1.43v1.43h-1.43zM31.52 51.58h1.43v1.43h-1.43zM32.95 51.58h1.43v1.43h-1.43zM34.38 51.58h1.43v1.43h-1.43zM35.82 51.58h1.43v1.43h-1.43zM40.11 51.58h1.43v1.43h-1.43zM42.98 51.58h1.43v1.43h-1.43zM44.41 51.58h1.43v1.43h-1.43zM48.71 51.58h1.43v1.43h-1.43zM57.31 51.58h1.43v1.43h-1.43zM58.74 51.58h1.43v1.43h-1.43zM60.17 51.58h1.43v1.43h-1.43zM64.47 51.58h1.43v1.43h-1.43zM67.33 51.58h1.43v1.43h-1.43zM68.77 51.58h1.43v1.43h-1.43zM1.43 53.01h1.43v1.43h-1.43zM2.87 53.01h1.43v1.43h-1.43zM5.73 53.01h1.43v1.43h-1.43zM7.16 53.01h1.43v1.43h-1.43zM10.03 53.01h1.43v1.43h-1.43zM12.89 53.01h1.43v1.43h-1.43zM14.33 53.01h1.43v1.43h-1.43zM17.19 53.01h1.43v1.43h-1.43zM18.62 53.01h1.43v1.43h-1.43zM20.06 53.01h1.43v1.43h-1.43zM30.09 53.01h1.43v1.43h-1.43zM31.52 53.01h1.43v1.43h-1.43zM34.38 53.01h1.43v1.43h-1.43zM42.98 53.01h1.43v1.43h-1.43zM45.84 53.01h1.43v1.43h-1.43zM48.71 53.01h1.43v1.43h-1.43zM50.14 53.01h1.43v1.43h-1.43zM54.44 53.01h1.43v1.43h-1.43zM55.87 53.01h1.43v1.43h-1.43zM57.31 53.01h1.43v1.43h-1.43zM58.74 53.01h1.43v1.43h-1.43zM61.60 53.01h1.43v1.43h-1.43zM63.04 53.01h1.43v1.43h-1.43zM64.47 53.01h1.43v1.43h-1.43zM65.90 53.01h1.43v1.43h-1.43zM68.77 53.01h1.43v1.43h-1.43zM0.00 54.44h1.43v1.43h-1.43zM2.87 54.44h1.43v1.43h-1.43zM4.30 54.44h1.43v1.43h-1.43zM8.60 54.44h1.43v1.43h-1.43zM10.03 54.44h1.43v1.43h-1.43zM11.46 54.44h1.43v1.43h-1.43zM15.76 54.44h1.43v1.43h-1.43zM18.62 54.44h1.43v1.43h-1.43zM21.49 54.44h1.43v1.43h-1.43zM22.92 54.44h1.43v1.43h-1.43zM30.09 54.44h1.43v1.43h-1.43zM37.25 54.44h1.43v1.43h-1.43zM38.68 54.44h1.43v1.43h-1.43zM41.55 54.44h1.43v1.43h-1.43zM42.98 54.44h1.43v1.43h-1.43zM44.41 54.44h1.43v1.43h-1.43zM50.14 54.44h1.43v1.43h-1.43zM53.01 54.44h1.43v1.43h-1.43zM55.87 54.44h1.43v1.43h-1.43zM60.17 54.44h1.43v1.43h-1.43zM63.04 54.44h1.43v1.43h-1.43zM64.47 54.44h1.43v1.43h-1.43zM65.90 54.44h1.43v1.43h-1.43zM0.00 55.87h1.43v1.43h-1.43zM1.43 55.87h1.43v1.43h-1.43zM2.87 55.87h1.43v1.43h-1.43zM5.73 55.87h1.43v1.43h-1.43zM7.16 55.87h1.43v1.43h-1.43zM10.03 55.87h1.43v1.43h-1.43zM14.33 55.87h1.43v1.43h-1.43zM15.76 55.87h1.43v1.43h-1.43zM21.49 55.87h1.43v1.43h-1.43zM27.22 55.87h1.43v1.43h-1.43zM28.65 55.87h1.43v1.43h-1.43zM30.09 55.87h1.43v1.43h-1.43zM32.95 55.87h1.43v1.43h-1.43zM34.38 55.87h1.43v1.43h-1.43zM35.82 55.87h1.43v1.43h-1.43zM37.25 55.87h1.43v1.43h-1.43zM38.68 55.87h1.43v1.43h-1.43zM41.55 55.87h1.43v1.43h-1.43zM44.41 55.87h1.43v1.43h-1.43zM45.84 55.87h1.43v1.43h-1.43zM47.28 55.87h1.43v1.43h-1.43zM48.71 55.87h1.43v1.43h-1.43zM50.14 55.87h1.43v1.43h-1.43zM51.58 55.87h1.43v1.43h-1.43zM53.01 55.87h1.43v1.43h-1.43zM55.87 55.87h1.43v1.43h-1.43zM57.31 55.87h1.43v1.43h-1.43zM58.74 55.87h1.43v1.43h-1.43zM60.17 55.87h1.43v1.43h-1.43zM63.04 55.87h1.43v1.43h-1.43zM65.90 55.87h1.43v1.43h-1.43zM67.33 55.87h1.43v1.43h-1.43zM0.00 57.31h1.43v1.43h-1.43zM1.43 57.31h1.43v1.43h-1.43zM7.16 57.31h1.43v1.43h-1.43zM8.60 57.31h1.43v1.43h-1.43zM14.33 57.31h1.43v1.43h-1.43zM18.62 57.31h1.43v1.43h-1.43zM20.06 57.31h1.43v1.43h-1.43zM21.49 57.31h1.43v1.43h-1.43zM22.92 57.31h1.43v1.43h-1.43zM24.36 57.31h1.43v1.43h-1.43zM25.79 57.31h1.43v1.43h-1.43zM28.65 57.31h1.43v1.43h-1.43zM38.68 57.31h1.43v1.43h-1.43zM40.11 57.31h1.43v1.43h-1.43zM42.98 57.31h1.43v1.43h-1.43zM50.14 57.31h1.43v1.43h-1.43zM64.47 57.31h1.43v1.43h-1.43zM67.33 57.31h1.43v1.43h-1.43zM11.46 58.74h1.43v1.43h-1.43zM14.33 58.74h1.43v1.43h-1.43zM17.19 58.74h1.43v1.43h-1.43zM18.62 58.74h1.43v1.43h-1.43zM20.06 58.74h1.43v1.43h-1.43zM24.36 58.74h1.43v1.43h-1.43zM27.22 58.74h1.43v1.43h-1.43zM28.65 58.74h1.43v1.43h-1.43zM38.68 58.74h1.43v1.43h-1.43zM40.11 58.74h1.43v1.43h-1.43zM41.55 58.74h1.43v1.43h-1.43zM44.41 58.74h1.43v1.43h-1.43zM50.14 58.74h1.43v1.43h-1.43zM51.58 58.74h1.43v1.43h-1.43zM53.01 58.74h1.43v1.43h-1.43zM54.44 58.74h1.43v1.43h-1.43zM55.87 58.74h1.43v1.43h-1.43zM64.47 58.74h1.43v1.43h-1.43zM67.33 58.74h1.43v1.43h-1.43zM68.77 58.74h1.43v1.43h-1.43zM14.33 60.17h1.43v1.43h-1.43zM17.19 60.17h1.43v1.43h-1.43zM20.06 60.17h1.43v1.43h-1.43zM22.92 60.17h1.43v1.43h-1.43zM25.79 60.17h1.43v1.43h-1.43zM27.22 60.17h1.43v1.43h-1.43zM30.09 60.17h1.43v1.43h-1.43zM38.68 60.17h1.43v1.43h-1.43zM42.98 60.17h1.43v1.43h-1.43zM44.41 60.17h1.43v1.43h-1.43zM45.84 60.17h1.43v1.43h-1.43zM48.71 60.17h1.43v1.43h-1.43zM51.58 60.17h1.43v1.43h-1.43zM54.44 60.17h1.43v1.43h-1.43zM12.89 61.60h1.43v1.43h-1.43zM17.19 61.60h1.43v1.43h-1.43zM20.06 61.60h1.43v1.43h-1.43zM21.49 61.60h1.43v1.43h-1.43zM22.92 61.60h1.43v1.43h-1.43zM28.65 61.60h1.43v1.43h-1.43zM38.68 61.60h1.43v1.43h-1.43zM44.41 61.60h1.43v1.43h-1.43zM45.84 61.60h1.43v1.43h-1.43zM50.14 61.60h1.43v1.43h-1.43zM54.44 61.60h1.43v1.43h-1.43zM64.47 61.60h1.43v1.43h-1.43zM67.33 61.60h1.43v1.43h-1.43zM68.77 61.60h1.43v1.43h-1.43zM21.49 63.04h1.43v1.43h-1.43zM25.79 63.04h1.43v1.43h-1.43zM28.65 63.04h1.43v1.43h-1.43zM40.11 63.04h1.43v1.43h-1.43zM41.55 63.04h1.43v1.43h-1.43zM44.41 63.04h1.43v1.43h-1.43zM48.71 63.04h1.43v1.43h-1.43zM50.14 63.04h1.43v1.43h-1.43zM67.33 63.04h1.43v1.43h-1.43zM68.77 63.04h1.43v1.43h-1.43zM11.46 64.47h1.43v1.43h-1.43zM12.89 64.47h1.43v1.43h-1.43zM14.33 64.47h1.43v1.43h-1.43zM18.62 64.47h1.43v1.43h-1.43zM20.06 64.47h1.43v1.43h-1.43zM21.49 64.47h1.43v1.43h-1.43zM27.22 64.47h1.43v1.43h-1.43zM30.09 64.47h1.43v1.43h-1.43zM35.82 64.47h1.43v1.43h-1.43zM38.68 64.47h1.43v1.43h-1.43zM40.11 64.47h1.43v1.43h-1.43zM41.55 64.47h1.43v1.43h-1.43zM42.98 64.47h1.43v1.43h-1.43zM45.84 64.47h1.43v1.43h-1.43zM50.14 64.47h1.43v1.43h-1.43zM51.58 64.47h1.43v1.43h-1.43zM54.44 64.47h1.43v1.43h-1.43zM55.87 64.47h1.43v1.43h-1.43zM57.31 64.47h1.43v1.43h-1.43zM61.60 64.47h1.43v1.43h-1.43zM63.04 64.47h1.43v1.43h-1.43zM68.77 64.47h1.43v1.43h-1.43zM11.46 65.90h1.43v1.43h-1.43zM12.89 65.90h1.43v1.43h-1.43zM14.33 65.90h1.43v1.43h-1.43zM17.19 65.90h1.43v1.43h-1.43zM20.06 65.90h1.43v1.43h-1.43zM21.49 65.90h1.43v1.43h-1.43zM25.79 65.90h1.43v1.43h-1.43zM28.65 65.90h1.43v1.43h-1.43zM31.52 65.90h1.43v1.43h-1.43zM34.38 65.90h1.43v1.43h-1.43zM38.68 65.90h1.43v1.43h-1.43zM41.55 65.90h1.43v1.43h-1.43zM45.84 65.90h1.43v1.43h-1.43zM47.28 65.90h1.43v1.43h-1.43zM48.71 65.90h1.43v1.43h-1.43zM50.14 65.90h1.43v1.43h-1.43zM51.58 65.90h1.43v1.43h-1.43zM54.44 65.90h1.43v1.43h-1.43zM58.74 65.90h1.43v1.43h-1.43zM60.17 65.90h1.43v1.43h-1.43zM61.60 65.90h1.43v1.43h-1.43zM64.47 65.90h1.43v1.43h-1.43zM65.90 65.90h1.43v1.43h-1.43zM67.33 65.90h1.43v1.43h-1.43zM15.76 67.33h1.43v1.43h-1.43zM18.62 67.33h1.43v1.43h-1.43zM20.06 67.33h1.43v1.43h-1.43zM21.49 67.33h1.43v1.43h-1.43zM25.79 67.33h1.43v1.43h-1.43zM30.09 67.33h1.43v1.43h-1.43zM32.95 67.33h1.43v1.43h-1.43zM34.38 67.33h1.43v1.43h-1.43zM35.82 67.33h1.43v1.43h-1.43zM37.25 67.33h1.43v1.43h-1.43zM45.84 67.33h1.43v1.43h-1.43zM53.01 67.33h1.43v1.43h-1.43zM54.44 67.33h1.43v1.43h-1.43zM55.87 67.33h1.43v1.43h-1.43zM58.74 67.33h1.43v1.43h-1.43zM61.60 67.33h1.43v1.43h-1.43zM63.04 67.33h1.43v1.43h-1.43zM64.47 67.33h1.43v1.43h-1.43zM65.90 67.33h1.43v1.43h-1.43zM68.77 67.33h1.43v1.43h-1.43zM11.46 68.77h1.43v1.43h-1.43zM17.19 68.77h1.43v1.43h-1.43zM22.92 68.77h1.43v1.43h-1.43zM24.36 68.77h1.43v1.43h-1.43zM25.79 68.77h1.43v1.43h-1.43zM31.52 68.77h1.43v1.43h-1.43zM32.95 68.77h1.43v1.43h-1.43zM37.25 68.77h1.43v1.43h-1.43zM40.11 68.77h1.43v1.43h-1.43zM42.98 68.77h1.43v1.43h-1.43zM45.84 68.77h1.43v1.43h-1.43zM47.28 68.77h1.43v1.43h-1.43zM50.14 68.77h1.43v1.43h-1.43zM53.01 68.77h1.43v1.43h-1.43zM54.44 68.77h1.43v1.43h-1.43zM55.87 68.77h1.43v1.43h-1.43zM57.31 68.77h1.43v1.43h-1.43zM58.74 68.77h1.43v1.43h-1.43zM61.60 68.77h1.43v1.43h-1.43zM64.47 68.77h1.43v1.43h-1.43zM67.33 68.77h1.43v1.43h-1.43z"/>
<rect x="0.00" y="0.00" width="10.03" height="10.03" fill="#111"/>
<rect x="1.43" y="1.43" width="7.16" height="7.16" fill="#fff"/>
<rect x="2.87" y="2.87" width="4.30" height="4.30" fill="#111"/>
<rect x="60.17" y="0.00" width="10.03" height="10.03" fill="#111"/>
<rect x="61.60" y="1.43" width="7.16" height="7.16" fill="#fff"/>
<rect x="63.04" y="2.87" width="4.30" height="4.30" fill="#111"/>
<rect x="0.00" y="60.17" width="10.03" height="10.03" fill="#111"/>
<rect x="1.43" y="61.60" width="7.16" height="7.16" fill="#fff"/>
<rect x="2.87" y="63.04" width="4.30" height="4.30" fill="#111"/>
<rect x="31.52" y="5.73" width="7.16" height="7.16" fill="#111"/>
<rect x="32.95" y="7.16" width="4.30" height="4.30" fill="#fff"/>
<rect x="34.38" y="8.60" width="1.43" height="1.43" fill="#111"/>
<rect x="5.73" y="31.52" width="7.16" height="7.16" fill="#111"/>
<rect x="7.16" y="32.95" width="4.30" height="4.30" fill="#fff"/>
<rect x="8.60" y="34.38" width="1.43" height="1.43" fill="#111"/>
<rect x="31.52" y="57.31" width="7.16" height="7.16" fill="#111"/>
<rect x="32.95" y="58.74" width="4.30" height="4.30" fill="#fff"/>
<rect x="34.38" y="60.17" width="1.43" height="1.43" fill="#111"/>
<rect x="57.31" y="31.52" width="7.16" height="7.16" fill="#111"/>
<rect x="58.74" y="32.95" width="4.30" height="4.30" fill="#fff"/>
<rect x="60.17" y="34.38" width="1.43" height="1.43" fill="#111"/>
<rect x="57.31" y="57.31" width="7.16" height="7.16" fill="#111"/>
<rect x="58.74" y="58.74" width="4.30" height="4.30" fill="#fff"/>
<rect x="60.17" y="60.17" width="1.43" height="1.43" fill="#111"/>
<circle cx="35.1" cy="35.1" r="6.5" fill="none" stroke="#e0c8e0" stroke-width="1.5"/>
<rect x="30" y="33.5" width="10" height="3" fill="#d8d0e0"/>
</svg>
<!-- stats -->
<div class="abs" style="left:59px;top:99px;font-size:10.9px;letter-spacing:-0.45px;color:#e6c27c;white-space:nowrap;line-height:1.2;">新增确诊人数</div>
<div class="num" style="left:59px;top:110px;font-size:32px;font-weight:bold;color:#e3b24c;transform:scaleX(0.66);">3</div>
<div class="abs" style="left:77px;top:124.5px;font-size:13px;color:#e0c080;white-space:nowrap;line-height:1.2;">人</div>

<div class="abs" style="left:237px;top:99px;font-size:10.9px;letter-spacing:-0.45px;color:#4a5aa0;white-space:nowrap;line-height:1.2;">累计确诊人数</div>
<div class="num" style="left:237px;top:110px;font-size:32px;font-weight:bold;color:#2d48bf;transform:scaleX(0.69);">338</div>
<div class="abs" style="left:282px;top:124.5px;font-size:13px;color:#555a80;white-space:nowrap;line-height:1.2;">人</div>

<div class="abs" style="left:416px;top:99px;font-size:10.9px;letter-spacing:-0.45px;color:#6a9fd8;white-space:nowrap;line-height:1.2;">累计治愈人数</div>
<div class="num" style="left:416px;top:110px;font-size:32px;font-weight:bold;color:#4a9ae8;transform:scaleX(0.655);">121</div>
<div class="abs" style="left:416px;top:132.5px;width:5px;height:5px;background:#fafafa;"></div>
<div class="abs" style="left:424px;top:132.5px;width:4px;height:5px;background:#fafafa;"></div>
<div class="abs" style="left:439.5px;top:132.5px;width:4.5px;height:5px;background:#fafafa;"></div>
<div class="abs" style="left:448px;top:132.5px;width:4px;height:5px;background:#fafafa;"></div>
<div class="abs" style="left:460px;top:124.5px;font-size:13px;color:#7a9ac8;white-space:nowrap;line-height:1.2;">人</div>
<!-- axes labels -->
<div class="la" style="top:164.5px">50</div>
<div class="la" style="top:207.8px">40</div>
<div class="la" style="top:251.1px">30</div>
<div class="la" style="top:294.4px">20</div>
<div class="la" style="top:337.7px">10</div>
<div class="la" style="top:381.0px">0</div>
<div class="ra" style="top:160.8px">600</div>
<div class="ra" style="top:196.4px">500</div>
<div class="ra" style="top:232.0px">400</div>
<div class="ra" style="top:267.6px">300</div>
<div class="ra" style="top:303.2px">200</div>
<div class="ra" style="top:338.8px">100</div>
<div class="ra" style="top:374.4px">0</div>
<svg class="abs" style="left:0;top:0" width="849" height="475">
<rect x="86" y="373.8" width="692" height="1" fill="#f4f4f4"/>
<rect x="86" y="337.6" width="692" height="1" fill="#f4f4f4"/>
<rect x="86" y="301.4" width="692" height="1" fill="#f4f4f4"/>
<rect x="86" y="265.2" width="692" height="1" fill="#f4f4f4"/>
<rect x="86" y="229.0" width="692" height="1" fill="#f4f4f4"/>
<rect x="86" y="192.8" width="692" height="1" fill="#f4f4f4"/>
<rect x="89.6" y="408.2" width="18.6" height="1.8" fill="#2b4dcf"/>
<rect x="116.4" y="407.5" width="18.6" height="2.5" fill="#2b4dcf"/>
<rect x="143.2" y="405.0" width="18.6" height="5.0" fill="#2b4dcf"/>
<rect x="170.0" y="405.0" width="18.6" height="5.0" fill="#2b4dcf"/>
<rect x="196.8" y="396.0" width="18.6" height="14.0" fill="#2b4dcf"/>
<rect x="223.6" y="391.6" width="18.6" height="18.4" fill="#2b4dcf"/>
<rect x="250.4" y="387.3" width="18.6" height="22.7" fill="#2b4dcf"/>
<rect x="277.2" y="381.6" width="18.6" height="28.4" fill="#2b4dcf"/>
<rect x="304.0" y="371.8" width="18.6" height="38.2" fill="#2b4dcf"/>
<rect x="330.8" y="360.7" width="18.6" height="49.3" fill="#2b4dcf"/>
<rect x="357.6" y="347.0" width="18.6" height="63.0" fill="#2b4dcf"/>
<rect x="384.4" y="342.0" width="18.6" height="68.0" fill="#2b4dcf"/>
<rect x="411.2" y="332.2" width="18.6" height="77.8" fill="#2b4dcf"/>
<rect x="438.0" y="324.7" width="18.6" height="85.3" fill="#2b4dcf"/>
<rect x="438.0" y="322.3" width="18.6" height="2.4" fill="#4aa2f3"/>
<rect x="464.8" y="318.2" width="18.6" height="91.8" fill="#2b4dcf"/>
<rect x="464.8" y="314.2" width="18.6" height="4.0" fill="#4aa2f3"/>
<rect x="491.6" y="307.8" width="18.6" height="102.2" fill="#2b4dcf"/>
<rect x="491.6" y="300.9" width="18.6" height="6.8" fill="#4aa2f3"/>
<rect x="518.4" y="302.7" width="18.6" height="107.3" fill="#2b4dcf"/>
<rect x="518.4" y="292.6" width="18.6" height="10.1" fill="#4aa2f3"/>
<rect x="545.2" y="300.6" width="18.6" height="109.4" fill="#2b4dcf"/>
<rect x="545.2" y="287.4" width="18.6" height="13.1" fill="#4aa2f3"/>
<rect x="572.0" y="297.3" width="18.6" height="112.7" fill="#2b4dcf"/>
<rect x="572.0" y="282.2" width="18.6" height="15.1" fill="#4aa2f3"/>
<rect x="598.8" y="295.9" width="18.6" height="114.1" fill="#2b4dcf"/>
<rect x="598.8" y="278.6" width="18.6" height="17.3" fill="#4aa2f3"/>
<rect x="625.6" y="293.7" width="18.6" height="116.3" fill="#2b4dcf"/>
<rect x="625.6" y="269.0" width="18.6" height="24.7" fill="#4aa2f3"/>
<rect x="652.4" y="292.3" width="18.6" height="117.7" fill="#2b4dcf"/>
<rect x="652.4" y="264.0" width="18.6" height="28.3" fill="#4aa2f3"/>
<rect x="679.2" y="291.9" width="18.6" height="118.1" fill="#2b4dcf"/>
<rect x="679.2" y="258.8" width="18.6" height="33.1" fill="#4aa2f3"/>
<rect x="706.0" y="289.4" width="18.6" height="120.6" fill="#2b4dcf"/>
<rect x="706.0" y="250.9" width="18.6" height="38.5" fill="#4aa2f3"/>
<rect x="732.8" y="288.3" width="18.6" height="121.7" fill="#2b4dcf"/>
<rect x="732.8" y="244.9" width="18.6" height="43.4" fill="#4aa2f3"/>
<polyline fill="none" stroke="#e8b752" stroke-width="1.8" stroke-linejoin="round" points="98.9,397.0 125.7,401.3 152.5,379.7 179.3,410.0 206.1,301.8 232.9,358.0 259.7,358.0 286.5,340.7 313.3,293.1 340.1,275.8 366.9,245.5 393.7,349.4 420.5,293.1 447.3,319.1 474.1,332.1 500.9,284.4 527.7,349.4 554.5,384.0 581.3,371.0 608.1,392.7 634.9,384.0 661.7,392.7 688.5,405.7 715.3,379.7 742.1,397.0"/>
<rect x="96.6" y="394.7" width="4.6" height="4.6" fill="#e8b752" transform="rotate(45 98.9 397.0)"/>
<rect x="123.4" y="399.0" width="4.6" height="4.6" fill="#e8b752" transform="rotate(45 125.7 401.3)"/>
<rect x="150.2" y="377.4" width="4.6" height="4.6" fill="#e8b752" transform="rotate(45 152.5 379.7)"/>
<rect x="177.0" y="407.7" width="4.6" height="4.6" fill="#e8b752" transform="rotate(45 179.3 410.0)"/>
<rect x="203.8" y="299.4" width="4.6" height="4.6" fill="#e8b752" transform="rotate(45 206.1 301.8)"/>
<rect x="230.6" y="355.7" width="4.6" height="4.6" fill="#e8b752" transform="rotate(45 232.9 358.0)"/>
<rect x="257.4" y="355.7" width="4.6" height="4.6" fill="#e8b752" transform="rotate(45 259.7 358.0)"/>
<rect x="284.2" y="338.4" width="4.6" height="4.6" fill="#e8b752" transform="rotate(45 286.5 340.7)"/>
<rect x="311.0" y="290.8" width="4.6" height="4.6" fill="#e8b752" transform="rotate(45 313.3 293.1)"/>
<rect x="337.8" y="273.5" width="4.6" height="4.6" fill="#e8b752" transform="rotate(45 340.1 275.8)"/>
<rect x="364.6" y="243.2" width="4.6" height="4.6" fill="#e8b752" transform="rotate(45 366.9 245.5)"/>
<rect x="391.4" y="347.1" width="4.6" height="4.6" fill="#e8b752" transform="rotate(45 393.7 349.4)"/>
<rect x="418.2" y="290.8" width="4.6" height="4.6" fill="#e8b752" transform="rotate(45 420.5 293.1)"/>
<rect x="445.0" y="316.8" width="4.6" height="4.6" fill="#e8b752" transform="rotate(45 447.3 319.1)"/>
<rect x="471.8" y="329.8" width="4.6" height="4.6" fill="#e8b752" transform="rotate(45 474.1 332.1)"/>
<rect x="498.6" y="282.1" width="4.6" height="4.6" fill="#e8b752" transform="rotate(45 500.9 284.4)"/>
<rect x="525.4" y="347.1" width="4.6" height="4.6" fill="#e8b752" transform="rotate(45 527.7 349.4)"/>
<rect x="552.2" y="381.7" width="4.6" height="4.6" fill="#e8b752" transform="rotate(45 554.5 384.0)"/>
<rect x="579.0" y="368.7" width="4.6" height="4.6" fill="#e8b752" transform="rotate(45 581.3 371.0)"/>
<rect x="605.8" y="390.4" width="4.6" height="4.6" fill="#e8b752" transform="rotate(45 608.1 392.7)"/>
<rect x="632.6" y="381.7" width="4.6" height="4.6" fill="#e8b752" transform="rotate(45 634.9 384.0)"/>
<rect x="659.4" y="390.4" width="4.6" height="4.6" fill="#e8b752" transform="rotate(45 661.7 392.7)"/>
<rect x="686.2" y="403.4" width="4.6" height="4.6" fill="#e8b752" transform="rotate(45 688.5 405.7)"/>
<rect x="713.0" y="377.4" width="4.6" height="4.6" fill="#e8b752" transform="rotate(45 715.3 379.7)"/>
<rect x="739.8" y="394.7" width="4.6" height="4.6" fill="#e8b752" transform="rotate(45 742.1 397.0)"/>
</svg>
<div class="dl" style="left:38.9px">1/22/20</div>
<div class="dl" style="left:92.5px">1/24/20</div>
<div class="dl" style="left:146.1px">1/26/20</div>
<div class="dl" style="left:199.7px">1/28/20</div>
<div class="dl" style="left:253.3px">1/30/20</div>
<div class="dl" style="left:306.9px">2/1/20</div>
<div class="dl" style="left:360.5px">2/3/20</div>
<div class="dl" style="left:414.1px">2/5/20</div>
<div class="dl" style="left:467.7px">2/7/20</div>
<div class="dl" style="left:521.3px">2/9/20</div>
<div class="dl" style="left:574.9px">2/11/20</div>
<div class="dl" style="left:628.5px">2/13/20</div>
<div class="abs" style="left:706px;top:420px;width:73px;height:28px;background:#fafafa;"></div>
<div class="num" style="left:712px;top:422.5px;font-size:24px;color:#111;-webkit-text-stroke:0.5px #111;transform:scaleX(0.75);">2/15/20</div>
<div class="abs" style="left:727px;top:440.6px;width:3.6px;height:4px;background:#fafafa;"></div>
<div class="abs" style="left:734.4px;top:440.6px;width:3.6px;height:4px;background:#fafafa;"></div>
</body></html>
